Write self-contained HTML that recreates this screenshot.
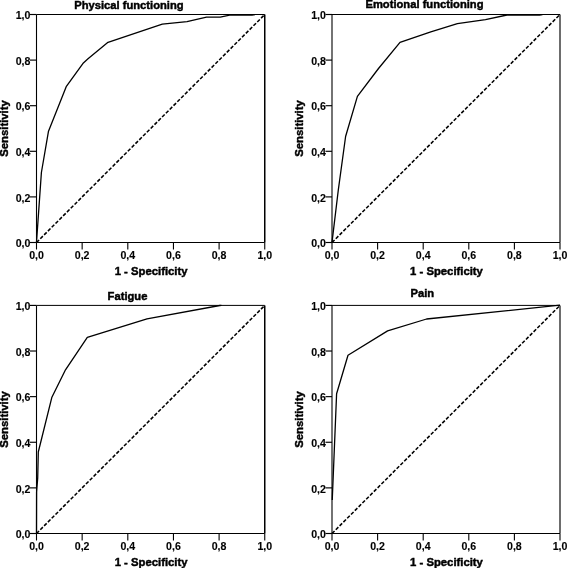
<!DOCTYPE html>
<html><head><meta charset="utf-8"><style>
html,body{margin:0;padding:0;background:#fff;}
body{width:567px;height:568px;overflow:hidden;}
svg{display:block;will-change:transform;}
text{font-family:"Liberation Sans",sans-serif;fill:#000;}
.tk{font-size:10.6px;font-weight:bold;stroke:#000;stroke-width:0.12px;}
.tt{font-size:11.2px;font-weight:bold;stroke:#000;stroke-width:0.45px;}
.lb{font-size:11.3px;font-weight:bold;stroke:#000;stroke-width:0.45px;}
.ax{stroke:#000;stroke-width:1;fill:none;}
.ax.g{stroke:#000;}
.dash{stroke:#000;stroke-width:1.55;fill:none;stroke-dasharray:3.6 1.78;}
.cv{stroke:#000;stroke-width:1.3;fill:none;stroke-linejoin:round;}
</style></head><body>
<svg width="567" height="568" viewBox="0 0 567 568">
<path d="M36.5 14.5H264.75" class="ax"/>
<path d="M36.5 242.5H264.75" class="ax" style="stroke-width:1.1"/>
<path d="M36.5 14.5V242.5" class="ax" style="stroke-width:1.1"/>
<path d="M264.75 14.5V242.5" class="ax" style="stroke-width:1.5"/>
<path d="M30 242.5H36.5" class="ax" style="stroke-width:1.15"/>
<text x="30.45" y="247.25" class="tk" text-anchor="end">0,0</text>
<path d="M36.5 242.5V249.5" class="ax" style="stroke-width:1.1"/>
<text x="36.5" y="258.9" class="tk" text-anchor="middle">0,0</text>
<path d="M30 196.9H36.5" class="ax" style="stroke-width:1.15"/>
<text x="30.45" y="201.65" class="tk" text-anchor="end">0,2</text>
<path d="M82.15 242.5V249.5" class="ax" style="stroke-width:1.1"/>
<text x="82.15" y="258.9" class="tk" text-anchor="middle">0,2</text>
<path d="M30 151.3H36.5" class="ax" style="stroke-width:1.15"/>
<text x="30.45" y="156.05" class="tk" text-anchor="end">0,4</text>
<path d="M127.8 242.5V249.5" class="ax" style="stroke-width:1.1"/>
<text x="127.8" y="258.9" class="tk" text-anchor="middle">0,4</text>
<path d="M30 105.7H36.5" class="ax" style="stroke-width:1.15"/>
<text x="30.45" y="110.45" class="tk" text-anchor="end">0,6</text>
<path d="M173.45 242.5V249.5" class="ax" style="stroke-width:1.1"/>
<text x="173.45" y="258.9" class="tk" text-anchor="middle">0,6</text>
<path d="M30 60.1H36.5" class="ax" style="stroke-width:1.15"/>
<text x="30.45" y="64.85" class="tk" text-anchor="end">0,8</text>
<path d="M219.1 242.5V249.5" class="ax" style="stroke-width:1.1"/>
<text x="219.1" y="258.9" class="tk" text-anchor="middle">0,8</text>
<path d="M30 14.5H36.5" class="ax" style="stroke-width:1.15"/>
<text x="30.45" y="19.25" class="tk" text-anchor="end">1,0</text>
<path d="M264.75 242.5V249.5" class="ax" style="stroke-width:1.1"/>
<text x="264.75" y="258.9" class="tk" text-anchor="middle">1,0</text>
<path d="M36.5 242.5L264.75 14.5" class="dash"/>
<path d="M36.5 242.3 L41.4 172.5 L48.5 131.2 L66.2 86.7 L83.4 62.9 L88 58.8 L108 42.3 L162.3 24.2 L187 21.6 L206.5 17.2 L220.2 17.2 L229.7 15.2 L252 15.2 L255 14.6" class="cv"/>
<text x="151.12" y="274.8" class="lb" text-anchor="middle">1 - Specificity</text>
<text transform="translate(7.9 128.5) rotate(-90)" class="lb" text-anchor="middle">Sensitivity</text>
<path d="M332 14.5H560" class="ax"/>
<path d="M332 242.5H560" class="ax" style="stroke-width:1.1"/>
<path d="M332 14.5V242.5" class="ax" style="stroke-width:1.1"/>
<path d="M560 14.5V242.5" class="ax" style="stroke-width:1.15"/>
<path d="M325.5 242.5H332" class="ax" style="stroke-width:1.15"/>
<text x="325.95" y="247.25" class="tk" text-anchor="end">0,0</text>
<path d="M332 242.5V249.5" class="ax" style="stroke-width:1.1"/>
<text x="332" y="258.9" class="tk" text-anchor="middle">0,0</text>
<path d="M325.5 196.9H332" class="ax" style="stroke-width:1.15"/>
<text x="325.95" y="201.65" class="tk" text-anchor="end">0,2</text>
<path d="M377.6 242.5V249.5" class="ax" style="stroke-width:1.1"/>
<text x="377.6" y="258.9" class="tk" text-anchor="middle">0,2</text>
<path d="M325.5 151.3H332" class="ax" style="stroke-width:1.15"/>
<text x="325.95" y="156.05" class="tk" text-anchor="end">0,4</text>
<path d="M423.2 242.5V249.5" class="ax" style="stroke-width:1.1"/>
<text x="423.2" y="258.9" class="tk" text-anchor="middle">0,4</text>
<path d="M325.5 105.7H332" class="ax" style="stroke-width:1.15"/>
<text x="325.95" y="110.45" class="tk" text-anchor="end">0,6</text>
<path d="M468.8 242.5V249.5" class="ax" style="stroke-width:1.1"/>
<text x="468.8" y="258.9" class="tk" text-anchor="middle">0,6</text>
<path d="M325.5 60.1H332" class="ax" style="stroke-width:1.15"/>
<text x="325.95" y="64.85" class="tk" text-anchor="end">0,8</text>
<path d="M514.4 242.5V249.5" class="ax" style="stroke-width:1.1"/>
<text x="514.4" y="258.9" class="tk" text-anchor="middle">0,8</text>
<path d="M325.5 14.5H332" class="ax" style="stroke-width:1.15"/>
<text x="325.95" y="19.25" class="tk" text-anchor="end">1,0</text>
<path d="M560 242.5V249.5" class="ax" style="stroke-width:1.1"/>
<text x="560" y="258.9" class="tk" text-anchor="middle">1,0</text>
<path d="M332 242.5L560 14.5" class="dash"/>
<path d="M332 242.3 L338.3 190 L345.6 136.5 L357.4 96.4 L378.5 68.5 L400 42.3 L430.8 31.8 L457.4 23.6 L485.5 19.6 L507 15 L539.5 15 L542.5 14.6" class="cv"/>
<text x="446.5" y="274.8" class="lb" text-anchor="middle">1 - Specificity</text>
<text transform="translate(303.4 128.5) rotate(-90)" class="lb" text-anchor="middle">Sensitivity</text>
<path d="M36.5 305.4H264.75" class="ax"/>
<path d="M36.5 533.5H264.75" class="ax" style="stroke-width:1.1"/>
<path d="M36.5 305.4V533.5" class="ax" style="stroke-width:1.1"/>
<path d="M264.75 305.4V533.5" class="ax" style="stroke-width:1.5"/>
<path d="M30 533.5H36.5" class="ax" style="stroke-width:1.15"/>
<text x="30.45" y="538.25" class="tk" text-anchor="end">0,0</text>
<path d="M36.5 533.5V540.5" class="ax" style="stroke-width:1.1"/>
<text x="36.5" y="549.9" class="tk" text-anchor="middle">0,0</text>
<path d="M30 487.88H36.5" class="ax" style="stroke-width:1.15"/>
<text x="30.45" y="492.63" class="tk" text-anchor="end">0,2</text>
<path d="M82.15 533.5V540.5" class="ax" style="stroke-width:1.1"/>
<text x="82.15" y="549.9" class="tk" text-anchor="middle">0,2</text>
<path d="M30 442.26H36.5" class="ax" style="stroke-width:1.15"/>
<text x="30.45" y="447.01" class="tk" text-anchor="end">0,4</text>
<path d="M127.8 533.5V540.5" class="ax" style="stroke-width:1.1"/>
<text x="127.8" y="549.9" class="tk" text-anchor="middle">0,4</text>
<path d="M30 396.64H36.5" class="ax" style="stroke-width:1.15"/>
<text x="30.45" y="401.39" class="tk" text-anchor="end">0,6</text>
<path d="M173.45 533.5V540.5" class="ax" style="stroke-width:1.1"/>
<text x="173.45" y="549.9" class="tk" text-anchor="middle">0,6</text>
<path d="M30 351.02H36.5" class="ax" style="stroke-width:1.15"/>
<text x="30.45" y="355.77" class="tk" text-anchor="end">0,8</text>
<path d="M219.1 533.5V540.5" class="ax" style="stroke-width:1.1"/>
<text x="219.1" y="549.9" class="tk" text-anchor="middle">0,8</text>
<path d="M30 305.4H36.5" class="ax" style="stroke-width:1.15"/>
<text x="30.45" y="310.15" class="tk" text-anchor="end">1,0</text>
<path d="M264.75 533.5V540.5" class="ax" style="stroke-width:1.1"/>
<text x="264.75" y="549.9" class="tk" text-anchor="middle">1,0</text>
<path d="M36.5 533.5L264.75 305.4" class="dash"/>
<path d="M36.5 533.2 L36.6 492 L37.7 478 L38.3 452 L51.9 397.2 L65.5 369.8 L87.3 337.4 L147 318.8 L219.8 305.5 L221.5 305.4" class="cv"/>
<text x="151.12" y="565.8" class="lb" text-anchor="middle">1 - Specificity</text>
<text transform="translate(7.9 419.45) rotate(-90)" class="lb" text-anchor="middle">Sensitivity</text>
<path d="M332 305.4H560" class="ax"/>
<path d="M332 533.5H560" class="ax" style="stroke-width:1.1"/>
<path d="M332 305.4V533.5" class="ax" style="stroke-width:1.1"/>
<path d="M560 305.4V533.5" class="ax" style="stroke-width:1.15"/>
<path d="M325.5 533.5H332" class="ax" style="stroke-width:1.15"/>
<text x="325.95" y="538.25" class="tk" text-anchor="end">0,0</text>
<path d="M332 533.5V540.5" class="ax" style="stroke-width:1.1"/>
<text x="332" y="549.9" class="tk" text-anchor="middle">0,0</text>
<path d="M325.5 487.88H332" class="ax" style="stroke-width:1.15"/>
<text x="325.95" y="492.63" class="tk" text-anchor="end">0,2</text>
<path d="M377.6 533.5V540.5" class="ax" style="stroke-width:1.1"/>
<text x="377.6" y="549.9" class="tk" text-anchor="middle">0,2</text>
<path d="M325.5 442.26H332" class="ax" style="stroke-width:1.15"/>
<text x="325.95" y="447.01" class="tk" text-anchor="end">0,4</text>
<path d="M423.2 533.5V540.5" class="ax" style="stroke-width:1.1"/>
<text x="423.2" y="549.9" class="tk" text-anchor="middle">0,4</text>
<path d="M325.5 396.64H332" class="ax" style="stroke-width:1.15"/>
<text x="325.95" y="401.39" class="tk" text-anchor="end">0,6</text>
<path d="M468.8 533.5V540.5" class="ax" style="stroke-width:1.1"/>
<text x="468.8" y="549.9" class="tk" text-anchor="middle">0,6</text>
<path d="M325.5 351.02H332" class="ax" style="stroke-width:1.15"/>
<text x="325.95" y="355.77" class="tk" text-anchor="end">0,8</text>
<path d="M514.4 533.5V540.5" class="ax" style="stroke-width:1.1"/>
<text x="514.4" y="549.9" class="tk" text-anchor="middle">0,8</text>
<path d="M325.5 305.4H332" class="ax" style="stroke-width:1.15"/>
<text x="325.95" y="310.15" class="tk" text-anchor="end">1,0</text>
<path d="M560 533.5V540.5" class="ax" style="stroke-width:1.1"/>
<text x="560" y="549.9" class="tk" text-anchor="middle">1,0</text>
<path d="M332 533.5L560 305.4" class="dash"/>
<path d="M332.25 500 L336.6 393.8 L348 355.2 L387.6 330.9 L426.6 319 L560 305.2" class="cv"/>
<text x="446.5" y="565.8" class="lb" text-anchor="middle">1 - Specificity</text>
<text transform="translate(303.4 419.45) rotate(-90)" class="lb" text-anchor="middle">Sensitivity</text>
<text x="128.9" y="8.5" class="tt" text-anchor="middle">Physical functioning</text>
<text x="424.5" y="7.9" class="tt" text-anchor="middle">Emotional functioning</text>
<text x="127.5" y="299.8" class="tt" text-anchor="middle">Fatigue</text>
<text x="422.3" y="296.7" class="tt" text-anchor="middle">Pain</text>
</svg>
</body></html>
